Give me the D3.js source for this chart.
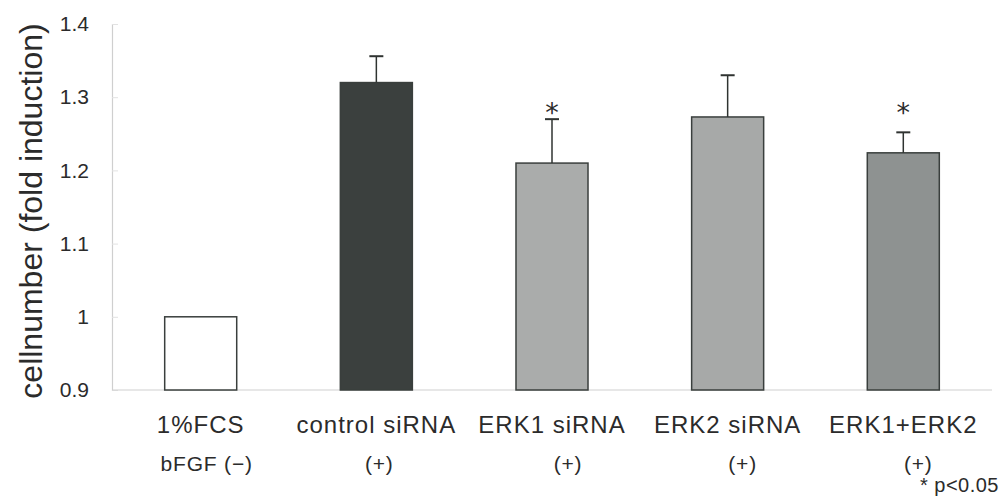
<!DOCTYPE html>
<html>
<head>
<meta charset="utf-8">
<script src="https://cdn.jsdelivr.net/npm/d3@7"></script>
<style>
  body { margin: 0; background: #fff; }
  text { font-family: "Liberation Sans", Arial, sans-serif; fill: #2b2b2b; }
</style>
</head>
<body>
<svg id="chart"></svg>
<script>
// data
const categories = ["1%FCS", "control siRNA", "ERK1 siRNA", "ERK2 siRNA", "ERK1+ERK2"];
const subLabels = ["bFGF (\u2212)", "(+)", "(+)", "(+)", "(+)"];
const values = [1.0, 1.32, 1.21, 1.273, 1.224];
const errors = [0, 0.036, 0.06, 0.057, 0.028];
const significant = [false, false, true, false, true];
const barColors = ["#ffffff", "#3b403e", "#aaacab", "#a7a9a8", "#8e9291"];
const yTicks = [0.9, 1.0, 1.1, 1.2, 1.3, 1.4];

const width = 1005, height = 496;
const margin = {left: 112, right: 13, top: 24, bottom: 106};

const svg = d3.select("#chart").attr("width", width).attr("height", height);

const x = d3.scaleBand()
    .domain(categories)
    .range([margin.left, width - margin.right])
    .paddingInner(0.59)
    .paddingOuter(0.3);

const y = d3.scaleLinear()
    .domain([0.9, 1.4])
    .range([height - margin.bottom, margin.top]);

// y axis
const yAxis = d3.axisLeft(y)
    .tickValues(yTicks)
    .tickSize(-6)
    .tickPadding(23)
    .tickFormat(d => d === 1 ? "1" : d3.format(".1f")(d));
const gy = svg.append("g")
    .attr("transform", `translate(${margin.left},0)`)
    .call(yAxis);
gy.select(".domain").attr("stroke", "#cfcfcf").attr("stroke-width", 1.2);
gy.selectAll(".tick line").attr("stroke", "#e2e2e2");
gy.selectAll(".tick text")
    .style("font-size", "21px")
    .style("font-family", "Liberation Sans, Arial, sans-serif")
    .attr("fill", "#333");

// baseline
svg.append("line")
    .attr("x1", margin.left).attr("x2", width - margin.right)
    .attr("y1", y(0.9)).attr("y2", y(0.9))
    .attr("stroke", "#cfcfcf").attr("stroke-width", 1.2);

// bars
svg.selectAll("rect.bar")
    .data(categories).enter()
    .append("rect")
    .attr("class", "bar")
    .attr("x", d => x(d))
    .attr("width", x.bandwidth())
    .attr("y", (d, i) => y(values[i]))
    .attr("height", (d, i) => y(0.9) - y(values[i]))
    .attr("fill", (d, i) => barColors[i])
    .attr("stroke", "#3a3f3d")
    .attr("stroke-width", 1.5);

// error bars + significance stars
const errGroup = svg.append("g");
categories.forEach((c, i) => {
    if (!errors[i]) return;
    const cx = x(c) + x.bandwidth() / 2;
    errGroup.append("line")
        .attr("x1", cx).attr("x2", cx)
        .attr("y1", y(values[i])).attr("y2", y(values[i] + errors[i]))
        .attr("stroke", "#2f3331").attr("stroke-width", 1.5);
    errGroup.append("line")
        .attr("x1", cx - 7).attr("x2", cx + 7)
        .attr("y1", y(values[i] + errors[i])).attr("y2", y(values[i] + errors[i]))
        .attr("stroke", "#2f3331").attr("stroke-width", 2);
    if (significant[i]) {
        svg.append("text")
            .attr("x", cx)
            .attr("y", y(1.27) + 3)
            .attr("text-anchor", "middle")
            .style("font-family", "DejaVu Sans, sans-serif")
            .style("font-size", "27px")
            .text("*");
    }
});

// category labels
svg.selectAll("text.cat")
    .data(categories).enter()
    .append("text")
    .attr("class", "cat")
    .attr("x", d => x(d) + x.bandwidth() / 2)
    .attr("y", 433)
    .attr("text-anchor", "middle")
    .style("font-size", "24px")
    .style("letter-spacing", "1px")
    .text(d => d);

// second row (bFGF) sits a little right of each bar centre in the original
const subShift = [6, 3, 16, 15, 15];
svg.selectAll("text.sub")
    .data(categories).enter()
    .append("text")
    .attr("class", "sub")
    .attr("x", (d, i) => x(d) + x.bandwidth() / 2 + subShift[i])
    .attr("y", 471)
    .attr("text-anchor", "middle")
    .style("font-size", "21px")
    .style("letter-spacing", "0.8px")
    .text((d, i) => subLabels[i]);

// footnote
svg.append("text")
    .attr("x", 999)
    .attr("y", 492)
    .attr("text-anchor", "end")
    .style("font-size", "20px")
    .style("letter-spacing", "0.5px")
    .text("* p<0.05");

// y axis title
svg.append("text")
    .attr("transform", `translate(42,${y(1.15) + 4}) rotate(-90)`)
    .attr("text-anchor", "middle")
    .style("font-size", "32px")
    .text("cellnumber (fold induction)");
</script>
</body>
</html>
